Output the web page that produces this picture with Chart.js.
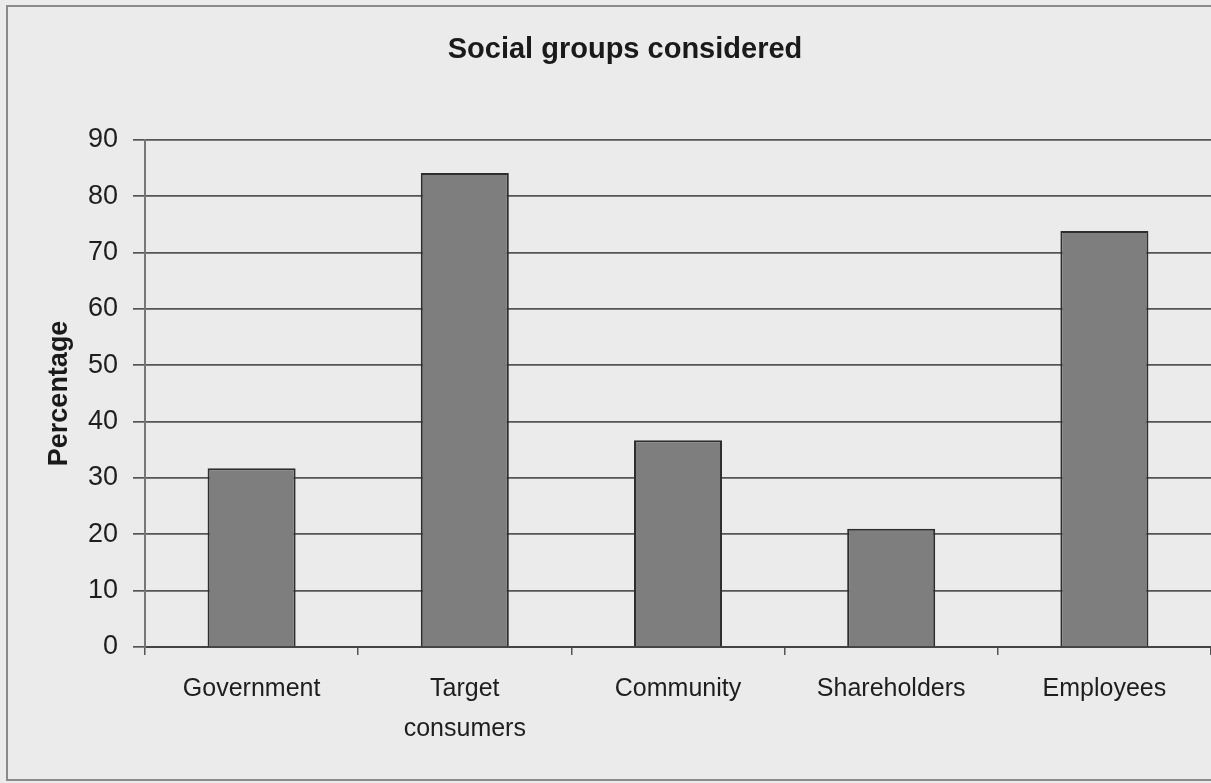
<!DOCTYPE html>
<html>
<head>
<meta charset="utf-8">
<script src="https://cdn.jsdelivr.net/npm/chart.js@4.4.1/dist/chart.umd.min.js"></script>
<style>
html,body{margin:0;padding:0;background:#ececec;overflow:hidden;}
#wrap{position:relative;width:1211px;height:783px;overflow:hidden;}
</style>
</head>
<body>
<div id="wrap"><canvas id="c" width="1250" height="783"></canvas></div>
<script>
const categories = [["Government"], ["Target", "consumers"], ["Community"], ["Shareholders"], ["Employees"]];
const percentages = [31.7, 84.1, 36.7, 21, 73.8];
const yTicks = [0, 10, 20, 30, 40, 50, 60, 70, 80, 90];

const FONT = "'Liberation Sans', Arial, Helvetica, sans-serif";

const bgPlugin = {
  id: 'bg',
  beforeDraw(chart) {
    const ctx = chart.ctx;
    ctx.save();
    ctx.fillStyle = '#ebebeb';
    ctx.fillRect(0, 0, chart.width, chart.height);
    ctx.strokeStyle = '#8a8a8a';
    ctx.lineWidth = 2;
    ctx.strokeRect(7, 6, chart.width + 10, chart.height - 9);
    ctx.restore();
  }
};

new Chart(document.getElementById('c'), {
  type: 'bar',
  data: {
    labels: categories,
    datasets: [{
      data: percentages,
      yAxisID: 'y',
      backgroundColor: '#7e7e7e',
      borderColor: '#2e2e2e',
      borderWidth: 2,
      categoryPercentage: 1,
      barPercentage: 0.413
    }]
  },
  options: {
    responsive: false,
    animation: false,
    devicePixelRatio: 1,
    layout: { padding: { left: 0, right: 0, top: 0, bottom: 0 } },
    plugins: {
      legend: { display: false },
      tooltip: { enabled: false },
      title: {
        display: true,
        text: 'Social groups considered',
        color: '#1a1a1a',
        font: { family: FONT, size: 29, weight: 'bold', lineHeight: 1.2 },
        padding: { top: 33, bottom: 72 }
      }
    },
    scales: {
      x: {
        grid: {
          display: true,
          offset: true,
          drawOnChartArea: false,
          drawTicks: true,
          tickLength: 8,
          color: '#555555',
          lineWidth: 1.5
        },
        border: { display: true, color: '#444444', width: 2 },
        ticks: {
          color: '#1e1e1e',
          padding: 14,
          maxRotation: 0,
          autoSkip: false,
          font: { family: FONT, size: 25, lineHeight: 1.6 }
        },
        afterFit(scale) { scale.height = 136; }
      },
      y: {
        min: 0,
        max: 90,
        afterBuildTicks(scale) { scale.ticks = yTicks.map(v => ({ value: v })); },
        grid: {
          color: '#555555',
          lineWidth: 1.7,
          drawTicks: true,
          tickLength: 12
        },
        border: { display: true, color: '#777777', width: 2 },
        ticks: {
          color: '#1e1e1e',
          padding: 15,
          font: { family: FONT, size: 27 }
        },
        title: {
          display: true,
          text: 'Percentage',
          color: '#1a1a1a',
          font: { family: FONT, size: 27, weight: 'bold', lineHeight: 1.2 },
          padding: { top: 43, bottom: 0 }
        },
        afterFit(scale) { scale.width = 145; }
      },
      spacer: {
        type: 'linear',
        position: 'right',
        display: true,
        grid: { display: false, drawTicks: false },
        border: { display: false },
        ticks: { display: false },
        afterFit(scale) { scale.width = 39; }
      }
    }
  },
  plugins: [bgPlugin]
});
</script>
</body>
</html>
